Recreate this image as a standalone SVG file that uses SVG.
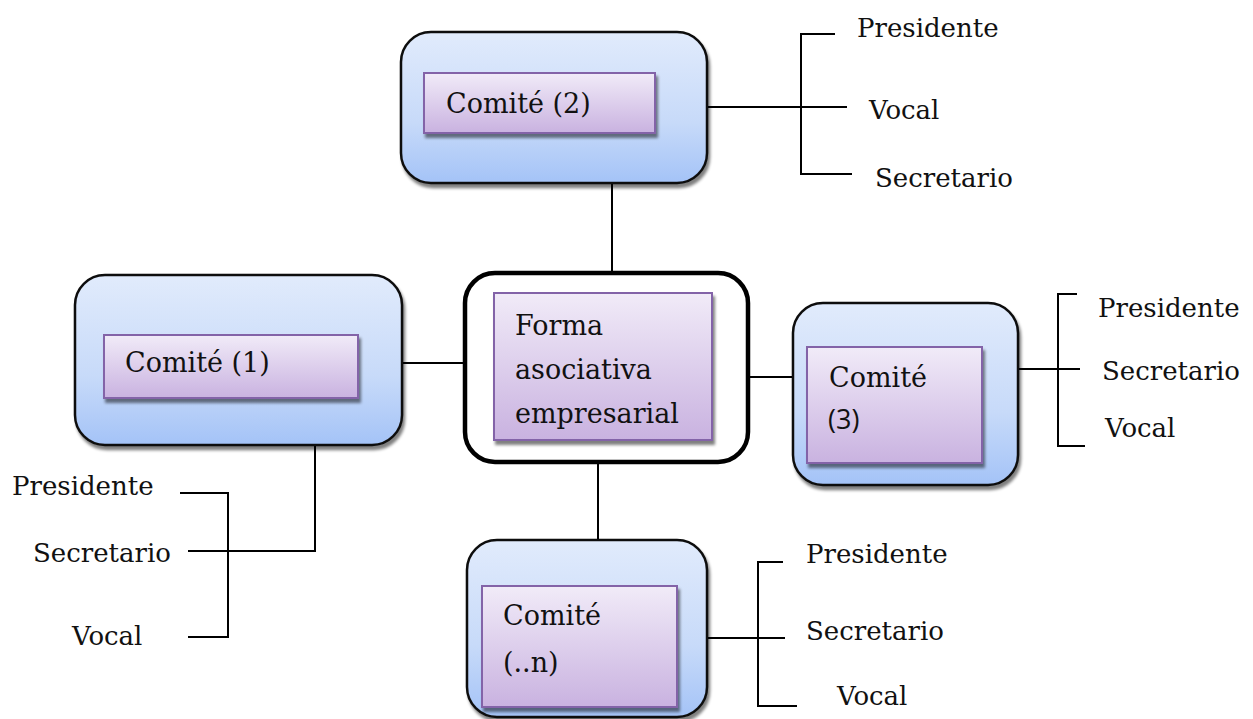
<svg xmlns="http://www.w3.org/2000/svg" width="1253" height="719" viewBox="0 0 1253 719">
<defs>
<linearGradient id="gBlue" x1="0" y1="0" x2="0" y2="1">
<stop offset="0" stop-color="#e1ebfc"/>
<stop offset="0.6" stop-color="#c7daf9"/>
<stop offset="1" stop-color="#a4c3f7"/>
</linearGradient>
<linearGradient id="gPurple" x1="0" y1="0" x2="0" y2="1">
<stop offset="0" stop-color="#f1ebf8"/>
<stop offset="1" stop-color="#c9b2e0"/>
</linearGradient>
<filter id="sh" x="-10%" y="-10%" width="125%" height="125%">
<feGaussianBlur in="SourceAlpha" stdDeviation="1.5"/>
<feOffset dx="2" dy="4" result="o"/>
<feComponentTransfer><feFuncA type="linear" slope="0.5"/></feComponentTransfer>
<feMerge><feMergeNode/><feMergeNode in="SourceGraphic"/></feMerge>
</filter>
</defs>
<style>
.outer{fill:url(#gBlue);stroke:#111;stroke-width:2.5;filter:url(#sh)}
.inner{fill:url(#gPurple);stroke:#8364a8;stroke-width:2;filter:url(#sh)}
.main{fill:#fff;stroke:#000;stroke-width:4.5}
.t{font-family:"DejaVu Serif","Liberation Serif",serif;font-size:27px;fill:#111}
.r{font-family:"DejaVu Serif","Liberation Serif",serif;font-size:26px;fill:#111}
.s{font-family:"Open Sans","Liberation Sans",sans-serif;font-size:27px;fill:#111}
.ln{stroke:#000;stroke-width:2;fill:none}
</style>

<g id="connectors">
<line class="ln" x1="612" y1="183" x2="612" y2="273"/>
<line class="ln" x1="402" y1="363" x2="465" y2="363"/>
<line class="ln" x1="748" y1="377" x2="793" y2="377"/>
<line class="ln" x1="598" y1="462" x2="598" y2="540"/>
<!-- top bracket -->
<line class="ln" x1="707" y1="107" x2="847" y2="107"/>
<polyline class="ln" points="835,34 801,34 801,174 852,174"/>
<!-- left bracket -->
<polyline class="ln" points="315,445 315,551 188,551"/>
<polyline class="ln" points="180,493 228,493 228,637 188,637"/>
<!-- right bracket -->
<line class="ln" x1="1005" y1="369" x2="1080" y2="369"/>
<polyline class="ln" points="1077,294 1058,294 1058,446 1085,446"/>
<!-- bottom bracket -->
<line class="ln" x1="707" y1="638" x2="785" y2="638"/>
<polyline class="ln" points="783,562 758,562 758,706 797,706"/>
</g>

<g id="comite2">
<rect class="outer" x="401" y="32" width="306" height="151" rx="30"/>
<rect class="inner" x="424" y="73" width="231" height="60"/>
<text class="t" x="446" y="113">Comité (2)</text>
</g>

<g id="forma">
<rect class="main" x="465" y="273" width="283" height="189" rx="30"/>
<rect class="inner" x="494" y="293" width="218" height="147"/>
<text class="t" x="515" y="335">Forma</text>
<text class="t" x="515" y="379">asociativa</text>
<text class="t" x="515" y="423">empresarial</text>
</g>

<g id="comite1">
<rect class="outer" x="75" y="275" width="327" height="170" rx="30"/>
<rect class="inner" x="104" y="335" width="254" height="63"/>
<text class="t" x="125" y="372">Comité (1)</text>
</g>

<g id="comite3">
<rect class="outer" x="793" y="303" width="225" height="182" rx="30"/>
<rect class="inner" x="807" y="347" width="175" height="116"/>
<text class="t" x="829" y="387">Comité</text>
<text class="s" x="828" y="429">(3)</text>
</g>

<g id="comiten">
<rect class="outer" x="467" y="540" width="240" height="177" rx="30"/>
<rect class="inner" x="482" y="586" width="195" height="121"/>
<text class="t" x="503" y="625">Comité</text>
<text class="t" x="503" y="672">(..n)</text>
</g>

<g id="roles2">
<text class="r" x="857" y="37">Presidente</text>
<text class="r" x="869" y="119">Vocal</text>
<text class="r" x="875" y="187">Secretario</text>
</g>
<g id="roles1">
<text class="r" x="12" y="495">Presidente</text>
<text class="r" x="33" y="562">Secretario</text>
<text class="r" x="72" y="645">Vocal</text>
</g>
<g id="roles3">
<text class="r" x="1098" y="317">Presidente</text>
<text class="r" x="1102" y="380">Secretario</text>
<text class="r" x="1105" y="437">Vocal</text>
</g>
<g id="rolesn">
<text class="r" x="806" y="563">Presidente</text>
<text class="r" x="806" y="640">Secretario</text>
<text class="r" x="837" y="705">Vocal</text>
</g>
</svg>
